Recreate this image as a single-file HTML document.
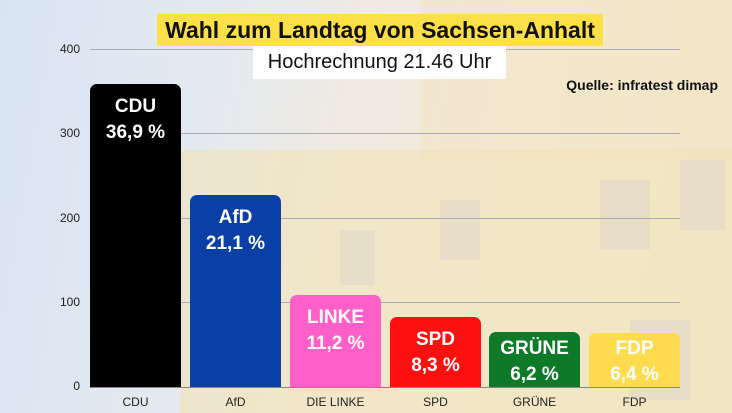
<!DOCTYPE html>
<html><head><meta charset="utf-8"><style>
*{margin:0;padding:0;box-sizing:border-box}
body{width:732px;height:413px;overflow:hidden;position:relative;font-family:"Liberation Sans","DejaVu Sans",sans-serif;
background:linear-gradient(100deg,#d9e4f2 0%,#e2e9f2 25%,#efeae2 45%,#f4ecd9 70%,#f3e8cf 100%)}
.bld{position:absolute;background:#f2e2b8;opacity:.6}
.win{position:absolute;background:#ddd6cb;opacity:.5}
.g{position:absolute;left:90px;width:590px;height:1px;background:#a9acb0}
.yl{position:absolute;left:40px;width:40px;text-align:right;font-size:12px;color:#222}
.bar{position:absolute;width:91px;bottom:26px;border-radius:7px 7px 0 0;color:#fff;text-align:center;font-weight:bold;font-size:19px;line-height:26px;padding-top:10px}
.xl{position:absolute;top:395px;width:91px;text-align:center;font-size:12px;color:#222}
</style></head><body>
<div class="bld" style="left:180px;top:150px;width:552px;height:263px"></div>
<div class="bld" style="left:420px;top:0;width:312px;height:160px;opacity:.4"></div>
<div class="win" style="left:600px;top:180px;width:50px;height:70px"></div>
<div class="win" style="left:680px;top:160px;width:45px;height:70px"></div>
<div class="win" style="left:440px;top:200px;width:40px;height:60px"></div>
<div class="win" style="left:340px;top:230px;width:35px;height:55px"></div>
<div class="win" style="left:630px;top:320px;width:60px;height:80px"></div>
<div class="g" style="top:49px"></div>
<div class="g" style="top:133px"></div>
<div class="g" style="top:218px"></div>
<div class="g" style="top:302px"></div>
<div class="g" style="top:387px;background:#888"></div>
<div class="yl" style="top:42px">400</div>
<div class="yl" style="top:126px">300</div>
<div class="yl" style="top:211px">200</div>
<div class="yl" style="top:295px">100</div>
<div class="yl" style="top:379px">0</div>
<div style="position:absolute;left:157px;top:14px;width:446px;height:32px;background:#fde047;font-weight:bold;font-size:23px;line-height:32px;text-align:center;color:#111">Wahl zum Landtag von Sachsen-Anhalt</div>
<div style="position:absolute;left:253px;top:46px;width:253px;height:33px;background:#fff;font-size:20px;line-height:33px;text-align:center;color:#111">Hochrechnung 21.46 Uhr</div>
<div style="position:absolute;right:14px;top:77px;font-weight:bold;font-size:14px;color:#111">Quelle: infratest dimap</div>
<div class="bar" style="left:90px;top:84px;background:#000">CDU<br>36,9 %</div>
<div class="bar" style="left:190px;top:195px;background:#0a3fa8">AfD<br>21,1 %</div>
<div class="bar" style="left:290px;top:295px;background:#ff5fc8">LINKE<br>11,2 %</div>
<div class="bar" style="left:390px;top:317px;background:#ff1010">SPD<br>8,3 %</div>
<div class="bar" style="left:489px;top:332px;background:#0d7a2a;padding-top:4px">GRÜNE<br>6,2 %</div>
<div class="bar" style="left:589px;top:333px;background:#ffdb50;padding-top:3px">FDP<br>6,4 %</div>
<div class="xl" style="left:90px">CDU</div>
<div class="xl" style="left:190px">AfD</div>
<div class="xl" style="left:290px">DIE LINKE</div>
<div class="xl" style="left:390px">SPD</div>
<div class="xl" style="left:489px">GRÜNE</div>
<div class="xl" style="left:589px">FDP</div>
</body></html>
